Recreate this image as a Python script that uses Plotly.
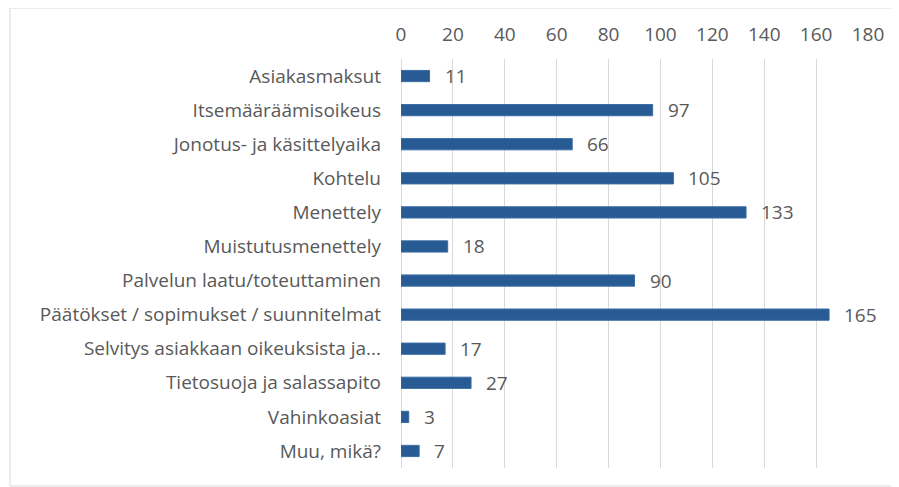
import plotly.graph_objects as go

categories = [
    "Asiakasmaksut",
    "Itsemääräämisoikeus",
    "Jonotus- ja käsittelyaika",
    "Kohtelu",
    "Menettely",
    "Muistutusmenettely",
    "Palvelun laatu/toteuttaminen",
    "Päätökset / sopimukset / suunnitelmat",
    "Selvitys asiakkaan oikeuksista ja...",
    "Tietosuoja ja salassapito",
    "Vahinkoasiat",
    "Muu, mikä?",
]
values = [11, 97, 66, 105, 133, 18, 90, 165, 17, 27, 3, 7]
tick_vals = [0, 20, 40, 60, 80, 100, 120, 140, 160, 180]

# page body has an 8px default margin; compensate
OFF = 8
W, H = 899 - OFF, 487 - OFF
L, T = 401 - OFF, 59 - OFF
pw = 868 - 401
ph = 468 - 59
R = W - L - pw
B = H - T - ph

FONT = "Open Sans"
FS = 19
TXT = "#595959"

fig = go.Figure()
fig.add_trace(go.Bar(
    x=values,
    y=categories,
    orientation="h",
    width=0.33,
    marker=dict(color="#285A94", line=dict(color="#3B6DA6", width=1)),
    hoverinfo="x+y",
))

for c, v in zip(categories, values):
    fig.add_annotation(x=v, y=c, text=str(v), showarrow=False, xanchor="left",
                       xshift=13, font=dict(family=FONT, size=FS, color=TXT))

def px_to_paper_x(px):
    return (px - OFF - L) / pw

def px_to_paper_y(py):
    return 1 - (py - OFF - T) / ph

fig.add_shape(type="rect", xref="paper", yref="paper",
              x0=px_to_paper_x(10), x1=px_to_paper_x(915),
              y0=px_to_paper_y(486), y1=px_to_paper_y(8),
              line=dict(color="#D9D9D9", width=1), fillcolor="rgba(0,0,0,0)", layer="below")

fig.update_layout(
    width=W, height=H,
    margin=dict(l=L, r=R, t=T, b=B, autoexpand=False),
    paper_bgcolor="white", plot_bgcolor="white",
    showlegend=False,
    font=dict(family=FONT, size=FS, color=TXT),
    xaxis=dict(
        side="top", range=[0, 180], tickvals=tick_vals,
        showgrid=True, gridcolor="#D9D9D9", gridwidth=1,
        zeroline=True, zerolinecolor="#D9D9D9", zerolinewidth=1,
        showline=False, ticks="", ticklabelstandoff=13,
        tickfont=dict(family=FONT, size=FS, color=TXT),
    ),
    yaxis=dict(
        autorange="reversed", showgrid=False, showline=False, ticks="",
        ticklabelstandoff=19,
        tickfont=dict(family=FONT, size=FS, color=TXT),
    ),
)

fig.write_html("out.html")
